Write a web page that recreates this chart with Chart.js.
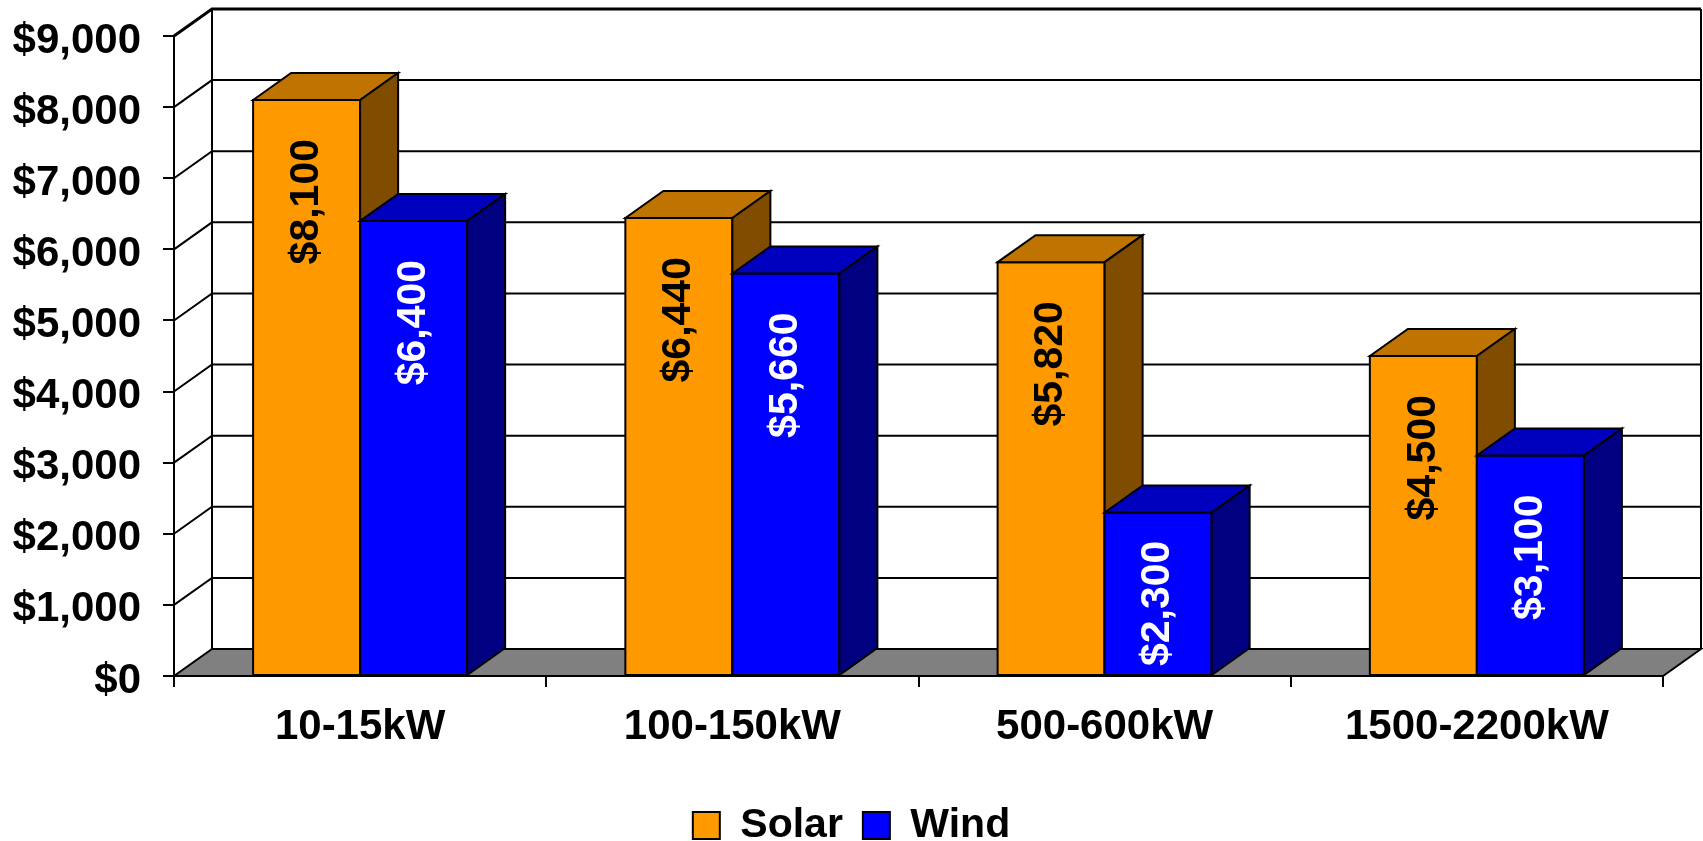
<!DOCTYPE html>
<html>
<head>
<meta charset="utf-8">
<script src="https://cdn.jsdelivr.net/npm/chart.js@4.4.1/dist/chart.umd.min.js"></script>
<style>
  html, body { margin: 0; padding: 0; background: #fff; }
</style>
</head>
<body>
<canvas id="myChart" width="1703" height="841"></canvas>
<script>
const categories = ['10-15kW', '100-150kW', '500-600kW', '1500-2200kW'];
const solarCost = [8100, 6440, 5820, 4500];
const windCost = [6400, 5660, 2300, 3100];
const yMin = 0, yMax = 9000, yStep = 1000;

const FONT = '"Liberation Sans", Arial, sans-serif';
// depth of the 3d box
const DX = 38, DY = -27;
const faces = [
  {front: '#FF9900', top: '#BF7300', side: '#7F4C00', text: '#000000'},
  {front: '#0000FF', top: '#0000BF', side: '#000080', text: '#FFFFFF'}
];

function money(v) {
  return '$' + Number(v).toLocaleString('en-US');
}

function poly(ctx, pts, fill) {
  ctx.beginPath();
  ctx.moveTo(pts[0][0], pts[0][1]);
  for (let i = 1; i < pts.length; i++) ctx.lineTo(pts[i][0], pts[i][1]);
  ctx.closePath();
  ctx.fillStyle = fill;
  ctx.fill();
  ctx.stroke();
}

const box3d = {
  id: 'box3d',
  beforeDatasetsDraw(chart) {
    const ctx = chart.ctx, a = chart.chartArea, y = chart.scales.y;
    const y0 = y.getPixelForValue(yMin);
    const yTop = y.getPixelForValue(yMax);
    ctx.save();
    ctx.strokeStyle = '#000';
    ctx.lineWidth = 2;
    // floor
    poly(ctx, [[a.left, y0], [a.right, y0], [a.right + DX, y0 + DY], [a.left + DX, y0 + DY]], '#808080');
    // grid on side wall and back wall
    y.ticks.forEach(t => {
      if (t.value === yMin) return;
      const py = y.getPixelForValue(t.value);
      ctx.beginPath();
      ctx.moveTo(a.left, py);
      ctx.lineTo(a.left + DX, py + DY);
      ctx.lineTo(a.right + DX, py + DY);
      ctx.lineWidth = t.value === yMax ? 3 : 2;
      ctx.stroke();
    });
    ctx.lineWidth = 2;
    ctx.beginPath();
    ctx.moveTo(a.left + DX, yTop + DY);
    ctx.lineTo(a.left + DX, y0 + DY);
    ctx.moveTo(a.right + DX, yTop + DY);
    ctx.lineTo(a.right + DX, y0 + DY);
    ctx.stroke();
    ctx.restore();
  },
  afterDatasetsDraw(chart) {
    const ctx = chart.ctx;
    const metas = [chart.getDatasetMeta(0), chart.getDatasetMeta(1)];
    ctx.save();
    ctx.strokeStyle = '#000';
    ctx.lineWidth = 2;
    ctx.lineJoin = 'miter';
    for (let i = 0; i < categories.length; i++) {
      metas.forEach((m, d) => {
        const p = m.data[i].getProps(['x', 'y', 'base', 'width'], true);
        const l = p.x - p.width / 2, r = p.x + p.width / 2;
        const f = faces[d];
        poly(ctx, [[l, p.y], [r, p.y], [r, p.base], [l, p.base]], f.front);
        poly(ctx, [[l, p.y], [l + DX, p.y + DY], [r + DX, p.y + DY], [r, p.y]], f.top);
        poly(ctx, [[r, p.y], [r + DX, p.y + DY], [r + DX, p.base + DY], [r, p.base]], f.side);
      });
    }
    // value labels, rotated inside the bars
    ctx.font = 'bold 41px ' + FONT;
    ctx.textAlign = 'right';
    ctx.textBaseline = 'middle';
    metas.forEach((m, d) => {
      m.data.forEach((bar, i) => {
        const p = bar.getProps(['x', 'y', 'base'], true);
        const txt = money(chart.data.datasets[d].data[i]);
        const len = ctx.measureText(txt).width;
        const off = Math.min(39, Math.max(0, p.base - p.y - len - 9));
        ctx.save();
        ctx.translate(p.x, p.y + off);
        ctx.rotate(-Math.PI / 2);
        ctx.fillStyle = faces[d].text;
        ctx.fillText(txt, 0, 0);
        ctx.restore();
      });
    });
    ctx.restore();
  }
};

const data = {
  labels: categories,
  datasets: [
    {label: 'Solar', data: solarCost, backgroundColor: faces[0].front, borderColor: '#000', borderWidth: 2},
    {label: 'Wind', data: windCost, backgroundColor: faces[1].front, borderColor: '#000', borderWidth: 2}
  ]
};

const config = {
  type: 'bar',
  data: data,
  options: {
    responsive: false,
    animation: false,
    categoryPercentage: 0.575,
    barPercentage: 1,
    layout: {padding: {top: 36, right: 0, left: 0, bottom: -15}},
    plugins: {
      tooltip: {enabled: false},
      legend: {
        position: 'bottom',
        labels: {
          boxWidth: 27,
          boxHeight: 27,
          padding: 20,
          color: '#000',
          font: {family: FONT, size: 41, weight: 'bold'}
        }
      }
    },
    scales: {
      x: {
        afterFit: s => { s.height = 109; },
        grid: {offset: true, drawOnChartArea: false, drawTicks: true, tickLength: 11, tickColor: '#000', lineWidth: 2},
        border: {display: true, color: '#000', width: 2},
        ticks: {color: '#000', padding: 15, maxRotation: 0, font: {family: FONT, size: 42, weight: 'bold'}}
      },
      y: {
        min: yMin,
        max: yMax,
        afterFit: s => { s.width = 174; },
        grid: {drawOnChartArea: false, drawTicks: true, tickLength: 11, tickColor: '#000', lineWidth: 2},
        border: {display: true, color: '#000', width: 2},
        ticks: {
          stepSize: yStep,
          color: '#000',
          padding: 22,
          labelOffset: 5,
          // small lineHeight so the top label does not push the plot down
          font: {family: FONT, size: 42, weight: 'bold', lineHeight: 0.5},
          callback: v => money(v)
        }
      },
      // empty strip on the right for the depth of the box
      yRight: {
        position: 'right',
        afterFit: s => { s.width = 40; },
        grid: {display: false},
        border: {display: false},
        ticks: {display: false}
      }
    }
  },
  plugins: [box3d]
};

new Chart(document.getElementById('myChart').getContext('2d'), config);
</script>
</body>
</html>
